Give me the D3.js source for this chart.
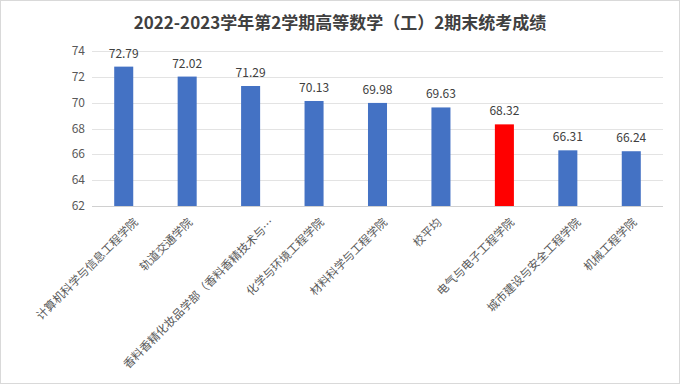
<!DOCTYPE html>
<html>
<head>
<meta charset="utf-8">
<script src="https://cdn.jsdelivr.net/npm/d3@7"></script>
<style>
  body { margin: 0; background: #fff; }
  text { font-family: "Noto Sans CJK SC", "Liberation Sans", sans-serif; }
</style>
</head>
<body>
<script>
var title = "2022-2023学年第2学期高等数学（工）2期末统考成绩";
var colleges = ["计算机科学与信息工程学院", "轨道交通学院", "香料香精化妆品学部（香料香精技术与…",
  "化学与环境工程学院", "材料科学与工程学院", "校平均", "电气与电子工程学院",
  "城市建设与安全工程学院", "机械工程学院"];
var scores = [72.79, 72.02, 71.29, 70.13, 69.98, 69.63, 68.32, 66.31, 66.24];
var yTicks = [62, 64, 66, 68, 70, 72, 74];
var highlight = "电气与电子工程学院";

var W = 680, H = 386;
var svg = d3.select("body").append("svg").attr("width", W).attr("height", H);

svg.append("rect")
  .attr("x", 0.5).attr("y", 0.5)
  .attr("width", W - 1).attr("height", H - 3)
  .attr("fill", "#fff").attr("stroke", "#d9d9d9");

svg.append("text")
  .attr("x", 340).attr("y", 29)
  .attr("text-anchor", "middle")
  .style("font-size", "17px").style("font-weight", "bold")
  .attr("fill", "#404040")
  .text(title);

var x = d3.scaleBand().domain(colleges).range([92, 663]).paddingInner(0.7).paddingOuter(0.35);
var y = d3.scaleLinear().domain([62, 74]).range([206, 51]);

// gridlines
svg.append("g").selectAll("line")
  .data(yTicks).enter()
  .append("line")
  .attr("x1", 92).attr("x2", 663)
  .attr("y1", function(d) { return Math.round(y(d)) + 0.5; })
  .attr("y2", function(d) { return Math.round(y(d)) + 0.5; })
  .attr("stroke", function(d) { return d == 62 ? "#d0d0d0" : "#e3e3e3"; });

// y labels
svg.append("g").selectAll("text")
  .data(yTicks).enter()
  .append("text")
  .attr("x", 85)
  .attr("y", function(d) { return y(d) + 4; })
  .attr("text-anchor", "end")
  .style("font-size", "12px")
  .attr("fill", "#595959")
  .text(function(d) { return d; });

// bars
svg.append("g").selectAll("rect")
  .data(colleges).enter()
  .append("rect")
  .attr("x", function(d) { return x(d); })
  .attr("width", x.bandwidth())
  .attr("y", function(d, i) { return y(scores[i]); })
  .attr("height", function(d, i) { return y(62) - y(scores[i]); })
  .attr("fill", function(d) { return d == highlight ? "#ff0000" : "#4472c4"; });

// value labels
svg.append("g").selectAll("text")
  .data(colleges).enter()
  .append("text")
  .attr("x", function(d) { return x(d) + x.bandwidth() / 2; })
  .attr("y", function(d, i) { return y(scores[i]) - 9; })
  .attr("text-anchor", "middle")
  .style("font-size", "12px")
  .attr("fill", "#404040")
  .text(function(d, i) { return scores[i].toFixed(2); });

// category labels, longer labels shift right a bit like excel does
svg.append("g").selectAll("text")
  .data(colleges).enter()
  .append("text")
  .attr("transform", function(d) {
    var cx = x(d) + x.bandwidth() / 2 + 1.5 * d.length - 3;
    return "translate(" + cx + ",223) rotate(-45)";
  })
  .attr("text-anchor", "end")
  .style("font-size", "11.5px")
  .attr("fill", "#595959")
  .text(function(d) { return d; });
</script>
</body>
</html>
